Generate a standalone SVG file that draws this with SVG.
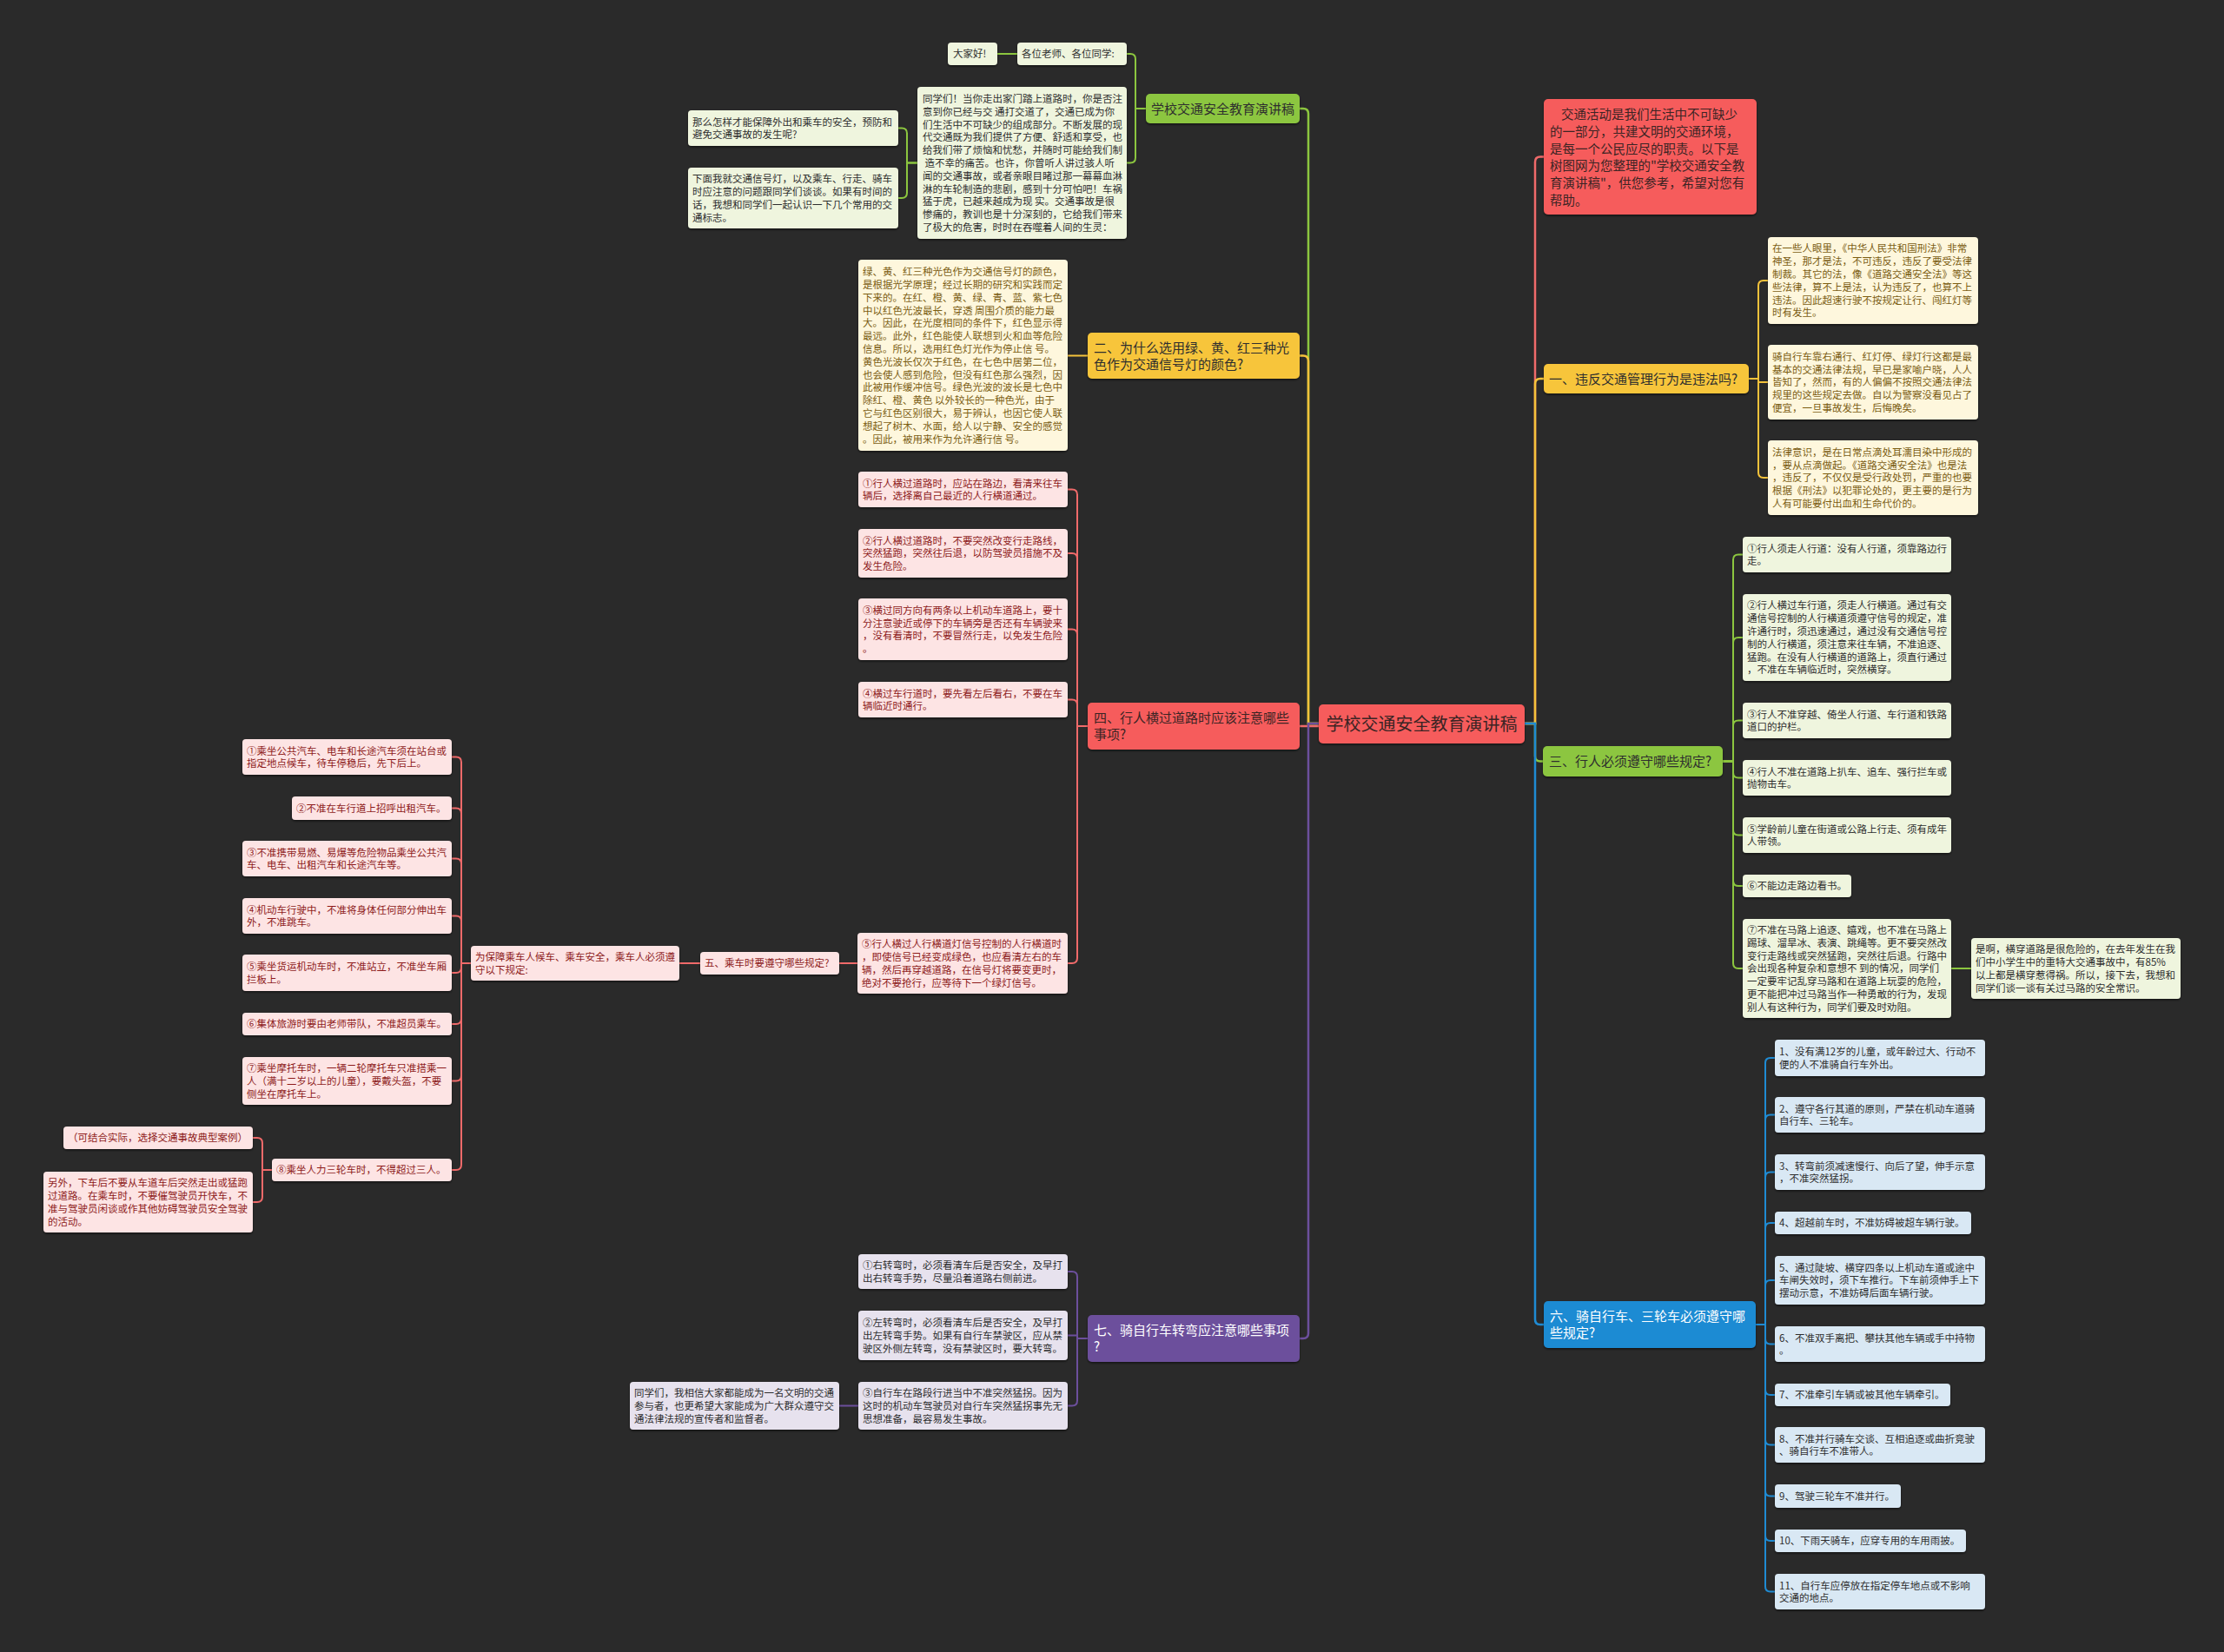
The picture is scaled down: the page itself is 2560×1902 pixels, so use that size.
<svg xmlns="http://www.w3.org/2000/svg" width="2560" height="1902" viewBox="0 0 2560 1902">
<defs>
<filter id="sh" x="-5%" y="-10%" width="110%" height="125%"><feDropShadow dx="0" dy="1.5" stdDeviation="1" flood-color="#000" flood-opacity="0.55"/></filter>
<style>
text{font-family:"Noto Sans CJK SC","Noto Sans",sans-serif}
.c{font-size:11.5px}
.b{font-size:15px}
.r{font-size:20px}
.in{font-size:14.5px}
.ln{fill:none;stroke-width:2;stroke-linejoin:round}
.lm{fill:none;stroke-width:2.5}
.gL{stroke:#8cc63f}.yL{stroke:#f5c33b}.rL{stroke:#ef6a6a}.bL{stroke:#1f8bd3}.pL{stroke:#6c4f9c}
.nR{fill:#f65b5b}.nG{fill:#8cc63f}.nY{fill:#f7c53a}.nB{fill:#1f8bd3}.nP{fill:#6c4f9c}
.kG{fill:#eff5de}.kY{fill:#fef7dd}.kR{fill:#fde4e4}.kB{fill:#d9e8f4}.kP{fill:#e7e2ee}
.tD{fill:#2e2e2e}.tR{fill:#8e1b1b}.tY{fill:#7b5d12}.tW{fill:#ffffff}.tN{fill:#3b2424}
</style>
</defs>
<rect x="0" y="0" width="2560" height="1902" fill="#2a2a2a"/>

<g id="connectors">
<!-- root to left branches -->
<path class="lm gL" d="M1518 833 H1506 V131 Q1506 125 1500 125 H1496"/>
<path class="lm yL" d="M1518 833 H1506 V415.5 Q1506 409.5 1500 409.5 H1496"/>
<path class="lm rL" d="M1518 836 H1496"/>
<path class="lm pL" d="M1518 833 H1506 V1535 Q1506 1541 1500 1541 H1496"/>
<!-- root to right branches -->
<path class="lm rL" d="M1755 833 H1767 V186.5 Q1767 180.5 1773 180.5 H1777"/>
<path class="lm yL" d="M1755 833 H1767 V442 Q1767 436 1773 436 H1777"/>
<path class="lm gL" d="M1755 833 H1767 V870.5 Q1767 876.5 1773 876.5 H1776"/>
<path class="lm bL" d="M1755 833 H1767 V1519 Q1767 1525 1773 1525 H1777"/>
<!-- green branch -->
<path class="ln gL" d="M1319 125 H1307 V68 Q1307 62 1301 62 H1297"/>
<path class="ln gL" d="M1319 125 H1307 V181.5 Q1307 187.5 1301 187.5 H1297"/>
<path class="ln gL" d="M1171 62 H1148"/>
<path class="ln gL" d="M1056 187.5 H1044 V153.5 Q1044 147.5 1038 147.5 H1034"/>
<path class="ln gL" d="M1056 187.5 H1044 V222 Q1044 228 1038 228 H1034"/>
<!-- yellow 二 -->
<path class="ln yL" d="M1252 409.5 H1229"/>
<!-- red 四 -->
<path class="ln rL" d="M1252 836 H1240 V569.5 Q1240 563.5 1234 563.5 H1229"/>
<path class="ln rL" d="M1252 836 H1240 V643 Q1240 637 1234 637 H1229"/>
<path class="ln rL" d="M1252 836 H1240 V730.5 Q1240 724.5 1234 724.5 H1229"/>
<path class="ln rL" d="M1252 836 H1240 V811.5 Q1240 805.5 1234 805.5 H1229"/>
<path class="ln rL" d="M1252 836 H1240 V1103 Q1240 1109 1234 1109 H1229"/>
<path class="ln rL" d="M987 1109 H966"/>
<path class="ln rL" d="M806 1109 H782"/>
<path class="ln rL" d="M542 1109 H531 V877.5 Q531 871.5 525 871.5 H520"/>
<path class="ln rL" d="M542 1109 H531 V936.5 Q531 930.5 525 930.5 H520"/>
<path class="ln rL" d="M542 1109 H531 V994.5 Q531 988.5 525 988.5 H520"/>
<path class="ln rL" d="M542 1109 H531 V1060.5 Q531 1054.5 525 1054.5 H520"/>
<path class="ln rL" d="M542 1109 H531 V1114 Q531 1120 525 1120 H520"/>
<path class="ln rL" d="M542 1109 H531 V1173 Q531 1179 525 1179 H520"/>
<path class="ln rL" d="M542 1109 H531 V1238.5 Q531 1244.5 525 1244.5 H520"/>
<path class="ln rL" d="M542 1109 H531 V1341 Q531 1347 525 1347 H520"/>
<path class="ln rL" d="M313 1347 H302 V1316 Q302 1310 296 1310 H291"/>
<path class="ln rL" d="M313 1347 H302 V1378 Q302 1384 296 1384 H291"/>
<!-- purple 七 -->
<path class="ln pL" d="M1252 1541 H1240 V1470 Q1240 1464 1234 1464 H1229"/>
<path class="ln pL" d="M1252 1541 H1240 V1537.5 H1229"/>
<path class="ln pL" d="M1252 1541 H1240 V1612.5 Q1240 1618.5 1234 1618.5 H1229"/>
<path class="ln pL" d="M988 1618.5 H966"/>
<!-- yellow 一 -->
<path class="ln yL" d="M2013 436 H2024 V329 Q2024 323 2030 323 H2035"/>
<path class="ln yL" d="M2013 436 H2024 V440 H2035"/>
<path class="ln yL" d="M2013 436 H2024 V544 Q2024 550 2030 550 H2035"/>
<!-- green 三 -->
<path class="ln gL" d="M1983 876.5 H1995 V644.5 Q1995 638.5 2001 638.5 H2006"/>
<path class="ln gL" d="M1983 876.5 H1995 V740 Q1995 734 2001 734 H2006"/>
<path class="ln gL" d="M1983 876.5 H1995 V835.5 Q1995 829.5 2001 829.5 H2006"/>
<path class="ln gL" d="M1983 876.5 H1995 V889.5 Q1995 895.5 2001 895.5 H2006"/>
<path class="ln gL" d="M1983 876.5 H1995 V955.5 Q1995 961.5 2001 961.5 H2006"/>
<path class="ln gL" d="M1983 876.5 H1995 V1014 Q1995 1020 2001 1020 H2006"/>
<path class="ln gL" d="M1983 876.5 H1995 V1109 Q1995 1115 2001 1115 H2006"/>
<path class="ln gL" d="M2246 1115 H2269"/>
<!-- blue 六 -->
<path class="ln bL" d="M2021 1525 H2032 V1224 Q2032 1218 2038 1218 H2043"/>
<path class="ln bL" d="M2021 1525 H2032 V1289.5 Q2032 1283.5 2038 1283.5 H2043"/>
<path class="ln bL" d="M2021 1525 H2032 V1355.5 Q2032 1349.5 2038 1349.5 H2043"/>
<path class="ln bL" d="M2021 1525 H2032 V1414 Q2032 1408 2038 1408 H2043"/>
<path class="ln bL" d="M2021 1525 H2032 V1480 Q2032 1474 2038 1474 H2043"/>
<path class="ln bL" d="M2021 1525 H2032 V1541.5 Q2032 1547.5 2038 1547.5 H2043"/>
<path class="ln bL" d="M2021 1525 H2032 V1600 Q2032 1606 2038 1606 H2043"/>
<path class="ln bL" d="M2021 1525 H2032 V1657.5 Q2032 1663.5 2038 1663.5 H2043"/>
<path class="ln bL" d="M2021 1525 H2032 V1716.5 Q2032 1722.5 2038 1722.5 H2043"/>
<path class="ln bL" d="M2021 1525 H2032 V1768 Q2032 1774 2038 1774 H2043"/>
<path class="ln bL" d="M2021 1525 H2032 V1826.5 Q2032 1832.5 2038 1832.5 H2043"/>
</g>

<!-- ROOT -->
<g id="root"><rect class="nR" x="1518" y="811" width="237" height="45" rx="5" filter="url(#sh)"/><text class="r tN" x="1636.5" y="840.5" text-anchor="middle">学校交通安全教育演讲稿</text></g>

<!-- LEFT: green branch -->
<g id="b-green"><rect class="nG" x="1319" y="108" width="177" height="34" rx="5" filter="url(#sh)"/><text class="b tD" x="1407.5" y="130.7" text-anchor="middle">学校交通安全教育演讲稿</text></g>
<g id="g-greet2"><rect class="kG" x="1171" y="49" width="126" height="26" rx="4" filter="url(#sh)"/><text class="c tD" x="1176" y="66.4">各位老师、各位同学:</text></g>
<g id="g-greet1"><rect class="kG" x="1091" y="49" width="57" height="26" rx="4" filter="url(#sh)"/><text class="c tD" x="1097" y="66.4">大家好!</text></g>
<g id="g-speech"><rect class="kG" x="1056" y="100" width="241" height="175" rx="4" filter="url(#sh)"/><text class="c tD" x="1062" y="117.9"><tspan x="1062">同学们！当你走出家门踏上道路时，你是否注</tspan><tspan x="1062" dy="14.8">意到你已经与交 通打交道了，交通已成为你</tspan><tspan x="1062" dy="14.8">们生活中不可缺少的组成部分。不断发展的现</tspan><tspan x="1062" dy="14.8">代交通既为我们提供了方便、舒适和享受，也</tspan><tspan x="1062" dy="14.8">给我们带了烦恼和忧愁，并随时可能给我们制</tspan><tspan x="1062" dy="14.8"> 造不幸的痛苦。也许，你曾听人讲过骇人听</tspan><tspan x="1062" dy="14.8">闻的交通事故，或者亲眼目睹过那一幕幕血淋</tspan><tspan x="1062" dy="14.8">淋的车轮制造的悲剧，感到十分可怕吧！车祸</tspan><tspan x="1062" dy="14.8">猛于虎，已越来越成为现 实。交通事故是很</tspan><tspan x="1062" dy="14.8">惨痛的，教训也是十分深刻的，它给我们带来</tspan><tspan x="1062" dy="14.8">了极大的危害，时时在吞噬着人间的生灵：</tspan></text></g>
<g id="g-q1"><rect class="kG" x="792" y="127" width="242" height="41" rx="4" filter="url(#sh)"/><text class="c tD" x="797" y="144.5"><tspan x="797">那么怎样才能保障外出和乘车的安全，预防和</tspan><tspan x="797" dy="14.8">避免交通事故的发生呢?</tspan></text></g>
<g id="g-q2"><rect class="kG" x="792" y="193" width="242" height="70" rx="4" filter="url(#sh)"/><text class="c tD" x="797" y="210.2"><tspan x="797">下面我就交通信号灯，以及乘车、行走、骑车</tspan><tspan x="797" dy="14.8">时应注意的问题跟同学们谈谈。如果有时间的</tspan><tspan x="797" dy="14.8">话，我想和同学们一起认识一下几个常用的交</tspan><tspan x="797" dy="14.8">通标志。</tspan></text></g>

<!-- LEFT: yellow 二 -->
<g id="b-yellow2"><rect class="nY" x="1252" y="383" width="244" height="53" rx="5" filter="url(#sh)"/><text class="b tD" x="1259" y="405.7"><tspan x="1259">二、为什么选用绿、黄、红三种光</tspan><tspan x="1259" dy="18.8">色作为交通信号灯的颜色?</tspan></text></g>
<g id="y2-text"><rect class="kY" x="988" y="299" width="241" height="220" rx="4" filter="url(#sh)"/><text class="c tY" x="993" y="317.2"><tspan x="993">绿、黄、红三种光色作为交通信号灯的颜色，</tspan><tspan x="993" dy="14.8">是根据光学原理；经过长期的研究和实践而定</tspan><tspan x="993" dy="14.8">下来的。在红、橙、黄、绿、青、蓝、紫七色</tspan><tspan x="993" dy="14.8">中以红色光波最长，穿透 周围介质的能力最</tspan><tspan x="993" dy="14.8">大。因此，在光度相同的条件下，红色显示得</tspan><tspan x="993" dy="14.8">最远。此外，红色能使人联想到火和血等危险</tspan><tspan x="993" dy="14.8">信息。所以，选用红色灯光作为停止信 号。</tspan><tspan x="993" dy="14.8">黄色光波长仅次于红色，在七色中居第二位，</tspan><tspan x="993" dy="14.8">也会使人感到危险，但没有红色那么强烈，因</tspan><tspan x="993" dy="14.8">此被用作缓冲信号。绿色光波的波长是七色中</tspan><tspan x="993" dy="14.8">除红、橙、黄色 以外较长的一种色光，由于</tspan><tspan x="993" dy="14.8">它与红色区别很大，易于辨认，也因它使人联</tspan><tspan x="993" dy="14.8">想起了树木、水面，给人以宁静、安全的感觉</tspan><tspan x="993" dy="14.8">。因此，被用来作为允许通行信 号。</tspan></text></g>

<!-- LEFT: red 四 -->
<g id="b-red4"><rect class="nR" x="1252" y="809" width="244" height="54" rx="5" filter="url(#sh)"/><text class="b tN" x="1259" y="832.4"><tspan x="1259">四、行人横过道路时应该注意哪些</tspan><tspan x="1259" dy="18.5">事项?</tspan></text></g>
<g id="r4-1"><rect class="kR" x="988" y="543" width="241" height="41" rx="4" filter="url(#sh)"/><text class="c tR" x="993" y="560.5"><tspan x="993">①行人横过道路时，应站在路边，看清来往车</tspan><tspan x="993" dy="14.8">辆后，选择离自己最近的人行横道通过。</tspan></text></g>
<g id="r4-2"><rect class="kR" x="988" y="609" width="241" height="56" rx="4" filter="url(#sh)"/><text class="c tR" x="993" y="626.6"><tspan x="993">②行人横过道路时，不要突然改变行走路线，</tspan><tspan x="993" dy="14.8">突然猛跑，突然往后退，以防驾驶员措施不及</tspan><tspan x="993" dy="14.8">发生危险。</tspan></text></g>
<g id="r4-3"><rect class="kR" x="988" y="689" width="241" height="71" rx="4" filter="url(#sh)"/><text class="c tR" x="993" y="706.7"><tspan x="993">③横过同方向有两条以上机动车道路上，要十</tspan><tspan x="993" dy="14.8">分注意驶近或停下的车辆旁是否还有车辆驶来</tspan><tspan x="993" dy="14.8">，没有看清时，不要冒然行走，以免发生危险</tspan><tspan x="993" dy="14.8">。</tspan></text></g>
<g id="r4-4"><rect class="kR" x="988" y="785" width="241" height="41" rx="4" filter="url(#sh)"/><text class="c tR" x="993" y="802.5"><tspan x="993">④横过车行道时，要先看左后看右，不要在车</tspan><tspan x="993" dy="14.8">辆临近时通行。</tspan></text></g>
<g id="r4-5"><rect class="kR" x="987" y="1074" width="242" height="70" rx="4" filter="url(#sh)"/><text class="c tR" x="992" y="1091.2"><tspan x="992">⑤行人横过人行横道灯信号控制的人行横道时</tspan><tspan x="992" dy="14.8">，即使信号已经变成绿色，也应看清左右的车</tspan><tspan x="992" dy="14.8">辆，然后再穿越道路，在信号灯将要变更时，</tspan><tspan x="992" dy="14.8">绝对不要抢行，应等待下一个绿灯信号。</tspan></text></g>
<g id="r5"><rect class="kR" x="806" y="1096" width="160" height="26" rx="4" filter="url(#sh)"/><text class="c tR" x="811" y="1113.4">五、乘车时要遵守哪些规定?</text></g>
<g id="r5-intro"><rect class="kR" x="542" y="1089" width="240" height="40" rx="4" filter="url(#sh)"/><text class="c tR" x="547" y="1106"><tspan x="547">为保障乘车人候车、乘车安全，乘车人必须遵</tspan><tspan x="547" dy="14.8">守以下规定:</tspan></text></g>
<g id="r5-1"><rect class="kR" x="279" y="851" width="241" height="41" rx="4" filter="url(#sh)"/><text class="c tR" x="284" y="868.5"><tspan x="284">①乘坐公共汽车、电车和长途汽车须在站台或</tspan><tspan x="284" dy="14.8">指定地点候车，待车停稳后，先下后上。</tspan></text></g>
<g id="r5-2"><rect class="kR" x="336" y="917" width="184" height="27" rx="4" filter="url(#sh)"/><text class="c tR" x="341" y="934.9">②不准在车行道上招呼出租汽车。</text></g>
<g id="r5-3"><rect class="kR" x="279" y="968" width="241" height="41" rx="4" filter="url(#sh)"/><text class="c tR" x="284" y="985.5"><tspan x="284">③不准携带易燃、易爆等危险物品乘坐公共汽</tspan><tspan x="284" dy="14.8">车、电车、出租汽车和长途汽车等。</tspan></text></g>
<g id="r5-4"><rect class="kR" x="279" y="1034" width="241" height="41" rx="4" filter="url(#sh)"/><text class="c tR" x="284" y="1051.5"><tspan x="284">④机动车行驶中，不准将身体任何部分伸出车</tspan><tspan x="284" dy="14.8">外，不准跳车。</tspan></text></g>
<g id="r5-5"><rect class="kR" x="279" y="1099" width="241" height="42" rx="4" filter="url(#sh)"/><text class="c tR" x="284" y="1117"><tspan x="284">⑤乘坐货运机动车时，不准站立，不准坐车厢</tspan><tspan x="284" dy="14.8">拦板上。</tspan></text></g>
<g id="r5-6"><rect class="kR" x="279" y="1166" width="241" height="26" rx="4" filter="url(#sh)"/><text class="c tR" x="284" y="1183.4">⑥集体旅游时要由老师带队，不准超员乘车。</text></g>
<g id="r5-7"><rect class="kR" x="279" y="1217" width="241" height="55" rx="4" filter="url(#sh)"/><text class="c tR" x="284" y="1234.1"><tspan x="284">⑦乘坐摩托车时，一辆二轮摩托车只准搭乘一</tspan><tspan x="284" dy="14.8">人（满十二岁以上的儿童），要戴头盔，不要</tspan><tspan x="284" dy="14.8">侧坐在摩托车上。</tspan></text></g>
<g id="r5-8"><rect class="kR" x="313" y="1334" width="207" height="26" rx="4" filter="url(#sh)"/><text class="c tR" x="318" y="1351.4">⑧乘坐人力三轮车时，不得超过三人。</text></g>
<g id="r5-8a"><rect class="kR" x="73" y="1297" width="218" height="26" rx="4" filter="url(#sh)"/><text class="c tR" x="78" y="1314.4">（可结合实际，选择交通事故典型案例）</text></g>
<g id="r5-8b"><rect class="kR" x="50" y="1349" width="241" height="70" rx="4" filter="url(#sh)"/><text class="c tR" x="55" y="1366.2"><tspan x="55">另外，下车后不要从车道车后突然走出或猛跑</tspan><tspan x="55" dy="14.8">过道路。在乘车时，不要催驾驶员开快车，不</tspan><tspan x="55" dy="14.8">准与驾驶员闲谈或作其他妨碍驾驶员安全驾驶</tspan><tspan x="55" dy="14.8">的活动。</tspan></text></g>

<!-- LEFT: purple 七 -->
<g id="b-purple7"><rect class="nP" x="1252" y="1514" width="244" height="54" rx="5" filter="url(#sh)"/><text class="b tW" x="1259" y="1537.4"><tspan x="1259">七、骑自行车转弯应注意哪些事项</tspan><tspan x="1259" dy="18.5">?</tspan></text></g>
<g id="p7-1"><rect class="kP" x="988" y="1444" width="241" height="40" rx="4" filter="url(#sh)"/><text class="c tD" x="993" y="1461"><tspan x="993">①右转弯时，必须看清车后是否安全，及早打</tspan><tspan x="993" dy="14.8">出右转弯手势，尽量沿着道路右侧前进。</tspan></text></g>
<g id="p7-2"><rect class="kP" x="988" y="1509" width="241" height="57" rx="4" filter="url(#sh)"/><text class="c tD" x="993" y="1527.1"><tspan x="993">②左转弯时，必须看清车后是否安全，及早打</tspan><tspan x="993" dy="14.8">出左转弯手势。如果有自行车禁驶区，应从禁</tspan><tspan x="993" dy="14.8">驶区外侧左转弯，没有禁驶区时，要大转弯。</tspan></text></g>
<g id="p7-3"><rect class="kP" x="988" y="1591" width="241" height="55" rx="4" filter="url(#sh)"/><text class="c tD" x="993" y="1608.1"><tspan x="993">③自行车在路段行进当中不准突然猛拐。因为</tspan><tspan x="993" dy="14.8">这时的机动车驾驶员对自行车突然猛拐事先无</tspan><tspan x="993" dy="14.8">思想准备，最容易发生事故。</tspan></text></g>
<g id="p7-3a"><rect class="kP" x="725" y="1591" width="241" height="55" rx="4" filter="url(#sh)"/><text class="c tD" x="730" y="1608.1"><tspan x="730">同学们，我相信大家都能成为一名文明的交通</tspan><tspan x="730" dy="14.8">参与者，也更希望大家能成为广大群众遵守交</tspan><tspan x="730" dy="14.8">通法律法规的宣传者和监督者。</tspan></text></g>

<!-- RIGHT: intro -->
<g id="intro"><rect class="nR" x="1777" y="114" width="245" height="133" rx="5" filter="url(#sh)"/><text class="in tN" x="1784" y="137.2"><tspan x="1797">交通活动是我们生活中不可缺少</tspan><tspan x="1784" dy="19.7">的一部分，共建文明的交通环境，</tspan><tspan x="1784" dy="19.7">是每一个公民应尽的职责。以下是</tspan><tspan x="1784" dy="19.7">树图网为您整理的"学校交通安全教</tspan><tspan x="1784" dy="19.7">育演讲稿"，供您参考，希望对您有</tspan><tspan x="1784" dy="19.7">帮助。</tspan></text></g>

<!-- RIGHT: yellow 一 -->
<g id="b-yellow1"><rect class="nY" x="1777" y="419" width="236" height="34" rx="5" filter="url(#sh)"/><text class="b tD" x="1783" y="441.7">一、违反交通管理行为是违法吗?</text></g>
<g id="y1-a"><rect class="kY" x="2035" y="273" width="242" height="100" rx="4" filter="url(#sh)"/><text class="c tY" x="2040" y="290.4"><tspan x="2040">在一些人眼里，《中华人民共和国刑法》非常</tspan><tspan x="2040" dy="14.8">神圣，那才是法，不可违反，违反了要受法律</tspan><tspan x="2040" dy="14.8">制裁。其它的法，像《道路交通安全法》等这</tspan><tspan x="2040" dy="14.8">些法律，算不上是法，认为违反了，也算不上</tspan><tspan x="2040" dy="14.8">违法。因此超速行驶不按规定让行、闯红灯等</tspan><tspan x="2040" dy="14.8">时有发生。</tspan></text></g>
<g id="y1-b"><rect class="kY" x="2035" y="397" width="242" height="86" rx="4" filter="url(#sh)"/><text class="c tY" x="2040" y="414.8"><tspan x="2040">骑自行车靠右通行、红灯停、绿灯行这都是最</tspan><tspan x="2040" dy="14.8">基本的交通法律法规，早已是家喻户晓，人人</tspan><tspan x="2040" dy="14.8">皆知了，然而，有的人偏偏不按照交通法律法</tspan><tspan x="2040" dy="14.8">规里的这些规定去做。自以为警察没看见占了</tspan><tspan x="2040" dy="14.8">便宜，一旦事故发生，后悔晚矣。</tspan></text></g>
<g id="y1-c"><rect class="kY" x="2035" y="507" width="242" height="86" rx="4" filter="url(#sh)"/><text class="c tY" x="2040" y="524.8"><tspan x="2040">法律意识，是在日常点滴处耳濡目染中形成的</tspan><tspan x="2040" dy="14.8">，要从点滴做起。《道路交通安全法》也是法</tspan><tspan x="2040" dy="14.8">，违反了，不仅仅是受行政处罚，严重的也要</tspan><tspan x="2040" dy="14.8">根据《刑法》以犯罪论处的，更主要的是行为</tspan><tspan x="2040" dy="14.8">人有可能要付出血和生命代价的。</tspan></text></g>

<!-- RIGHT: green 三 -->
<g id="b-green3"><rect class="nG" x="1776" y="859" width="207" height="35" rx="5" filter="url(#sh)"/><text class="b tD" x="1783" y="882.2">三、行人必须遵守哪些规定?</text></g>
<g id="g3-1"><rect class="kG" x="2006" y="618" width="240" height="41" rx="4" filter="url(#sh)"/><text class="c tD" x="2011" y="635.5"><tspan x="2011">①行人须走人行道：没有人行道，须靠路边行</tspan><tspan x="2011" dy="14.8">走。</tspan></text></g>
<g id="g3-2"><rect class="kG" x="2006" y="684" width="240" height="100" rx="4" filter="url(#sh)"/><text class="c tD" x="2011" y="701.4"><tspan x="2011">②行人横过车行道，须走人行横道。通过有交</tspan><tspan x="2011" dy="14.8">通信号控制的人行横道须遵守信号的规定，准</tspan><tspan x="2011" dy="14.8">许通行时，须迅速通过，通过没有交通信号控</tspan><tspan x="2011" dy="14.8">制的人行横道，须注意来往车辆，不准追逐、</tspan><tspan x="2011" dy="14.8">猛跑。在没有人行横道的道路上，须直行通过</tspan><tspan x="2011" dy="14.8">，不准在车辆临近时，突然横穿。</tspan></text></g>
<g id="g3-3"><rect class="kG" x="2006" y="809" width="240" height="41" rx="4" filter="url(#sh)"/><text class="c tD" x="2011" y="826.5"><tspan x="2011">③行人不准穿越、倚坐人行道、车行道和铁路</tspan><tspan x="2011" dy="14.8">道口的护栏。</tspan></text></g>
<g id="g3-4"><rect class="kG" x="2006" y="875" width="240" height="41" rx="4" filter="url(#sh)"/><text class="c tD" x="2011" y="892.5"><tspan x="2011">④行人不准在道路上扒车、追车、强行拦车或</tspan><tspan x="2011" dy="14.8">抛物击车。</tspan></text></g>
<g id="g3-5"><rect class="kG" x="2006" y="941" width="240" height="41" rx="4" filter="url(#sh)"/><text class="c tD" x="2011" y="958.5"><tspan x="2011">⑤学龄前儿童在街道或公路上行走、须有成年</tspan><tspan x="2011" dy="14.8">人带领。</tspan></text></g>
<g id="g3-6"><rect class="kG" x="2006" y="1007" width="125" height="26" rx="4" filter="url(#sh)"/><text class="c tD" x="2011" y="1024.4">⑥不能边走路边看书。</text></g>
<g id="g3-7"><rect class="kG" x="2006" y="1058" width="240" height="114" rx="4" filter="url(#sh)"/><text class="c tD" x="2011" y="1075"><tspan x="2011">⑦不准在马路上追逐、嬉戏，也不准在马路上</tspan><tspan x="2011" dy="14.8">踢球、溜旱冰、表演、跳绳等。更不要突然改</tspan><tspan x="2011" dy="14.8">变行走路线或突然猛跑，突然往后退。行路中</tspan><tspan x="2011" dy="14.8">会出现各种复杂和意想不 到的情况，同学们</tspan><tspan x="2011" dy="14.8">一定要牢记乱穿马路和在道路上玩耍的危险，</tspan><tspan x="2011" dy="14.8">更不能把冲过马路当作一种勇敢的行为，发现</tspan><tspan x="2011" dy="14.8">别人有这种行为，同学们要及时劝阻。</tspan></text></g>
<g id="g3-7a"><rect class="kG" x="2269" y="1080" width="241" height="70" rx="4" filter="url(#sh)"/><text class="c tD" x="2274" y="1097.2"><tspan x="2274">是啊，横穿道路是很危险的，在去年发生在我</tspan><tspan x="2274" dy="14.8">们中小学生中的重特大交通事故中，有85%</tspan><tspan x="2274" dy="14.8">以上都是横穿惹得祸。所以，接下去，我想和</tspan><tspan x="2274" dy="14.8">同学们谈一谈有关过马路的安全常识。</tspan></text></g>

<!-- RIGHT: blue 六 -->
<g id="b-blue6"><rect class="nB" x="1777" y="1498" width="244" height="54" rx="5" filter="url(#sh)"/><text class="b tW" x="1784" y="1520.7"><tspan x="1784">六、骑自行车、三轮车必须遵守哪</tspan><tspan x="1784" dy="19.5">些规定?</tspan></text></g>
<g id="b6-1"><rect class="kB" x="2043" y="1197" width="242" height="42" rx="4" filter="url(#sh)"/><text class="c tD" x="2048" y="1215"><tspan x="2048">1、没有满12岁的儿童，或年龄过大、行动不</tspan><tspan x="2048" dy="14.8">便的人不准骑自行车外出。</tspan></text></g>
<g id="b6-2"><rect class="kB" x="2043" y="1263" width="242" height="41" rx="4" filter="url(#sh)"/><text class="c tD" x="2048" y="1280.5"><tspan x="2048">2、遵守各行其道的原则，严禁在机动车道骑</tspan><tspan x="2048" dy="14.8">自行车、三轮车。</tspan></text></g>
<g id="b6-3"><rect class="kB" x="2043" y="1329" width="242" height="41" rx="4" filter="url(#sh)"/><text class="c tD" x="2048" y="1346.5"><tspan x="2048">3、转弯前须减速慢行、向后了望，伸手示意</tspan><tspan x="2048" dy="14.8">，不准突然猛拐。</tspan></text></g>
<g id="b6-4"><rect class="kB" x="2043" y="1395" width="226" height="26" rx="4" filter="url(#sh)"/><text class="c tD" x="2048" y="1412.4">4、超越前车时，不准妨碍被超车辆行驶。</text></g>
<g id="b6-5"><rect class="kB" x="2043" y="1446" width="242" height="56" rx="4" filter="url(#sh)"/><text class="c tD" x="2048" y="1463.6"><tspan x="2048">5、通过陡坡、横穿四条以上机动车道或途中</tspan><tspan x="2048" dy="14.8">车闸失效时，须下车推行。下车前须伸手上下</tspan><tspan x="2048" dy="14.8">摆动示意，不准妨碍后面车辆行驶。</tspan></text></g>
<g id="b6-6"><rect class="kB" x="2043" y="1527" width="242" height="41" rx="4" filter="url(#sh)"/><text class="c tD" x="2048" y="1544.5"><tspan x="2048">6、不准双手离把、攀扶其他车辆或手中持物</tspan><tspan x="2048" dy="14.8">。</tspan></text></g>
<g id="b6-7"><rect class="kB" x="2043" y="1593" width="202" height="26" rx="4" filter="url(#sh)"/><text class="c tD" x="2048" y="1610.4">7、不准牵引车辆或被其他车辆牵引。</text></g>
<g id="b6-8"><rect class="kB" x="2043" y="1643" width="242" height="41" rx="4" filter="url(#sh)"/><text class="c tD" x="2048" y="1660.5"><tspan x="2048">8、不准并行骑车交谈、互相追逐或曲折竞驶</tspan><tspan x="2048" dy="14.8">、骑自行车不准带人。</tspan></text></g>
<g id="b6-9"><rect class="kB" x="2043" y="1709" width="145" height="27" rx="4" filter="url(#sh)"/><text class="c tD" x="2048" y="1726.9">9、驾驶三轮车不准并行。</text></g>
<g id="b6-10"><rect class="kB" x="2043" y="1761" width="220" height="26" rx="4" filter="url(#sh)"/><text class="c tD" x="2048" y="1778.4">10、下雨天骑车，应穿专用的车用雨披。</text></g>
<g id="b6-11"><rect class="kB" x="2043" y="1812" width="242" height="41" rx="4" filter="url(#sh)"/><text class="c tD" x="2048" y="1829.5"><tspan x="2048">11、自行车应停放在指定停车地点或不影响</tspan><tspan x="2048" dy="14.8">交通的地点。</tspan></text></g>
</svg>
